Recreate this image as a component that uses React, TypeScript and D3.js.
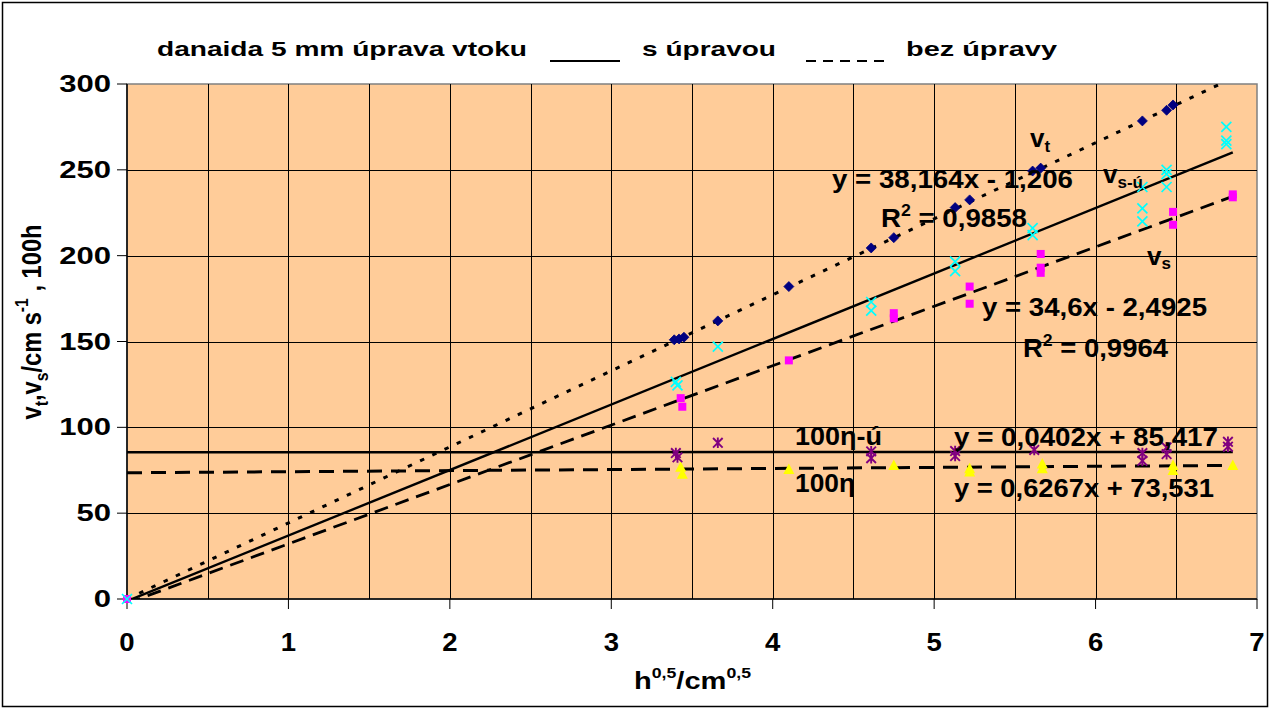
import React from 'react';
import * as d3 from 'd3';

const W = 1270;
const H = 709;
const FONT = '"Liberation Sans", Arial, Helvetica, sans-serif';

// ---- data (x = h^0.5 / cm^0.5) ----
const vtX = [3.39, 3.42, 3.45, 3.66, 4.10, 4.61, 4.75, 5.13, 5.22, 5.61, 5.66, 6.29, 6.44, 6.48];
const vtY = [151, 151.5, 152.5, 162, 182, 204.5, 210.5, 228, 232.5, 249.3, 251, 278.5, 284.7, 287.8];

const vsuX = [0, 3.40, 3.41, 3.66, 4.61, 4.61, 5.13, 5.13, 5.61, 5.61, 6.29, 6.29, 6.29, 6.44, 6.44, 6.44, 6.81, 6.81, 6.81];
const vsuY = [0, 126.5, 124.5, 147, 173, 168, 196.5, 191, 216, 212, 240, 227.5, 220, 250, 247.5, 240, 275, 267, 265];

const vsX = [0, 3.43, 3.44, 4.10, 4.75, 4.75, 5.22, 5.22, 5.66, 5.66, 5.66, 6.48, 6.48, 6.85, 6.85];
const vsY = [0, 117, 112, 139, 166.5, 163.5, 182, 172, 201, 193, 190, 225.5, 218, 235.7, 234];

const etaUX = [3.40, 3.41, 3.66, 4.61, 4.61, 5.13, 5.13, 5.62, 6.29, 6.29, 6.44, 6.44, 6.82, 6.82];
const etaUY = [85, 82.5, 91, 86, 82, 86.2, 83.3, 86.8, 85, 80.5, 88.3, 84.4, 91.6, 88.7];

const etaX = [3.43, 3.44, 4.10, 4.75, 5.22, 5.22, 5.67, 5.67, 6.48, 6.48, 6.85];
const etaY = [77, 73, 75.7, 78, 76.1, 74.2, 79, 76.1, 78, 75.1, 78];

// trendlines: [slope, intercept]
const vtTrend = [44.3, 0];
const vsuTrend = [38.164, -1.206];
const vsTrend = [34.6, -2.4925];
const etaUTrend = [0.0402, 85.417];
const etaTrend = [0.6267, 73.531];
const trendEnd = 6.85;

const xTicks = [0, 1, 2, 3, 4, 5, 6, 7];
const xGrid = [0.5, 1, 1.5, 2, 2.5, 3, 3.5, 4, 4.5, 5, 5.5, 6, 6.5];
const yTicks = [0, 50, 100, 150, 200, 250, 300];

const zip = (xs: number[], ys: number[]) => xs.map((v, i) => [v, ys[i]] as [number, number]);

export default function App() {
  const x = d3.scaleLinear().domain([0, 7]).range([127, 1257]);
  const y = d3.scaleLinear().domain([0, 300]).range([599, 84]);
  const line = d3.line<[number, number]>().x(d => x(d[0])).y(d => y(d[1]));
  const trendPath = (t: number[]) => line([[0, t[1]], [trendEnd, t[0] * trendEnd + t[1]]]);

  const diamond = (p: [number, number], i: number) => {
    const cx = x(p[0]), cy = y(p[1]), r = 5;
    return <path key={i} d={`M${cx},${cy - r}L${cx + r},${cy}L${cx},${cy + r}L${cx - r},${cy}Z`} fill="#000080" stroke="#000080" strokeWidth={0.8} />;
  };
  const cross = (p: [number, number], i: number) => {
    const cx = x(p[0]), cy = y(p[1]), r = 5;
    return <path key={i} d={`M${cx - r},${cy - r}L${cx + r},${cy + r}M${cx - r},${cy + r}L${cx + r},${cy - r}`} stroke="#00FFFF" strokeWidth={1.7} fill="none" />;
  };
  const square = (p: [number, number], i: number) => {
    const cx = x(p[0]), cy = y(p[1]);
    return <rect key={i} x={cx - 4} y={cy - 4} width={8} height={8} fill="#FF00FF" />;
  };
  const star = (p: [number, number], i: number) => {
    const cx = x(p[0]), cy = y(p[1]), r = 4.8;
    return <path key={i} d={`M${cx - r},${cy - r}L${cx + r},${cy + r}M${cx - r},${cy + r}L${cx + r},${cy - r}M${cx},${cy - r - 0.5}L${cx},${cy + r + 0.5}`} stroke="#800080" strokeWidth={1.9} fill="none" />;
  };
  const tri = (p: [number, number], i: number) => {
    const cx = x(p[0]), cy = y(p[1]);
    return <path key={i} d={`M${cx},${cy - 5.5}L${cx + 5.5},${cy + 5}L${cx - 5.5},${cy + 5}Z`} fill="#FFFF00" />;
  };

  const bold = { fontFamily: FONT, fontWeight: 700, fill: '#000' } as const;

  return (
    <svg width={W} height={H} style={{ position: 'absolute', left: 0, top: 0, background: '#fff' }}>
      <defs>
        <clipPath id="plot">
          <rect x={127} y={84} width={1130} height={515} />
        </clipPath>
      </defs>
      <rect x={2.5} y={2.5} width={W - 5} height={H - 5} fill="#fff" stroke="#000" strokeWidth={1.5} />

      {/* plot area */}
      <rect x={127} y={84} width={1130} height={515} fill="#FFCC99" stroke="#808080" strokeWidth={1.5} />
      {xGrid.map(v => (
        <line key={'gx' + v} x1={Math.round(x(v)) + 0.5} x2={Math.round(x(v)) + 0.5} y1={84} y2={599} stroke="#000" strokeWidth={1} />
      ))}
      {yTicks.filter(v => v > 0 && v < 300).map(v => (
        <line key={'gy' + v} x1={127} x2={1257} y1={Math.round(y(v)) + 0.5} y2={Math.round(y(v)) + 0.5} stroke="#000" strokeWidth={1} />
      ))}

      {/* axes */}
      <line x1={127} x2={127} y1={84} y2={599} stroke="#000" strokeWidth={1.5} />
      <line x1={127} x2={1257} y1={599} y2={599} stroke="#000" strokeWidth={1.5} />
      {yTicks.map(v => (
        <line key={'ty' + v} x1={117} x2={127} y1={y(v)} y2={y(v)} stroke="#000" strokeWidth={1} />
      ))}
      {xTicks.map(v => (
        <line key={'tx' + v} x1={x(v)} x2={x(v)} y1={599} y2={609} stroke="#000" strokeWidth={1} />
      ))}
      {yTicks.map(v => (
        <g key={'ly' + v} transform={`translate(111,${y(v) + 8}) scale(1.35,1)`}>
          <text x={0} y={0} textAnchor="end" fontSize={23} {...bold}>{v}</text>
        </g>
      ))}
      {xTicks.map(v => (
        <g key={'lx' + v} transform={`translate(${x(v)},651) scale(1.1,1)`}>
          <text x={0} y={0} textAnchor="middle" fontSize={25} {...bold}>{v}</text>
        </g>
      ))}

      {/* trendlines */}
      <g clipPath="url(#plot)">
        <path d={trendPath(vtTrend) || ''} stroke="#000" strokeWidth={3} strokeDasharray="4.5,9" fill="none" />
        <path d={trendPath(vsuTrend) || ''} stroke="#000" strokeWidth={2.4} fill="none" />
        <path d={trendPath(vsTrend) || ''} stroke="#000" strokeWidth={2.8} strokeDasharray="14,8" fill="none" />
        <path d={trendPath(etaUTrend) || ''} stroke="#000" strokeWidth={2.5} fill="none" />
        <path d={trendPath(etaTrend) || ''} stroke="#000" strokeWidth={3} strokeDasharray="15,9" fill="none" />
      </g>
      {/* series markers */}
      <g>
        {zip(etaX, etaY).map(tri)}
        {zip(etaUX, etaUY).map(star)}
        {zip(vsX, vsY).map(square)}
        {zip(vsuX, vsuY).map(cross)}
        {zip(vtX, vtY).map(diamond)}
      </g>

      {/* annotations */}
      <text x={832} y={188} fontSize={25} textLength={241} lengthAdjust="spacingAndGlyphs" {...bold}>y = 38,164x - 1,206</text>
      <text x={881} y={227} fontSize={25} textLength={146} lengthAdjust="spacingAndGlyphs" {...bold}>
        R<tspan fontSize={16} dy={-11}>2</tspan><tspan dy={11}> = 0,9858</tspan>
      </text>
      <text x={1030} y={147} fontSize={26} {...bold}>
        v<tspan fontSize={17} dy={5}>t</tspan>
      </text>
      <text x={1103} y={183} fontSize={26} {...bold}>
        v<tspan fontSize={17} dy={5}>s-ú</tspan>
      </text>
      <text x={1147} y={265} fontSize={26} {...bold}>
        v<tspan fontSize={17} dy={4}>s</tspan>
      </text>
      <text x={982} y={316} fontSize={25} textLength={225} lengthAdjust="spacingAndGlyphs" {...bold}>y = 34,6x - 2,4925</text>
      <text x={1023} y={357} fontSize={25} textLength={145} lengthAdjust="spacingAndGlyphs" {...bold}>
        R<tspan fontSize={16} dy={-11}>2</tspan><tspan dy={11}> = 0,9964</tspan>
      </text>
      <text x={795} y={445} fontSize={25} textLength={87} lengthAdjust="spacingAndGlyphs" {...bold}>100η-ú</text>
      <text x={795} y={492} fontSize={25} textLength={60} lengthAdjust="spacingAndGlyphs" {...bold}>100η</text>
      <text x={954} y={446} fontSize={25} textLength={264} lengthAdjust="spacingAndGlyphs" {...bold}>y = 0,0402x + 85,417</text>
      <text x={954} y={497} fontSize={25} textLength={260} lengthAdjust="spacingAndGlyphs" {...bold}>y = 0,6267x + 73,531</text>

      {/* legend / title */}
      <text x={157} y={56} fontSize={21} textLength={370} lengthAdjust="spacingAndGlyphs" {...bold}>danaida 5 mm úprava vtoku</text>
      <line x1={550} x2={620} y1={61} y2={61} stroke="#000" strokeWidth={2} />
      <text x={642} y={56} fontSize={21} textLength={134} lengthAdjust="spacingAndGlyphs" {...bold}>s úpravou</text>
      <line x1={806} x2={886} y1={61} y2={61} stroke="#000" strokeWidth={2} strokeDasharray="10,7" />
      <text x={906} y={56} fontSize={21} textLength={151} lengthAdjust="spacingAndGlyphs" {...bold}>bez úpravy</text>

      {/* axis titles */}
      <text x={634} y={689} fontSize={23} textLength={117} lengthAdjust="spacingAndGlyphs" {...bold}>
        h<tspan fontSize={14} dy={-11}>0,5</tspan><tspan dy={11}>/cm</tspan><tspan fontSize={14} dy={-11}>0,5</tspan>
      </text>
      <g transform="translate(41,322) scale(1.3,1) rotate(-90)">
        <text x={0} y={0} textAnchor="middle" fontSize={21} textLength={195} lengthAdjust="spacingAndGlyphs" {...bold}>
          v<tspan fontSize={14} dy={5}>t</tspan><tspan dy={-5}>,v</tspan><tspan fontSize={14} dy={5}>s</tspan><tspan dy={-5}>/cm s</tspan><tspan fontSize={14} dy={-10}>-1</tspan><tspan dy={10}> , 100h</tspan>
        </text>
      </g>
    </svg>
  );
}
